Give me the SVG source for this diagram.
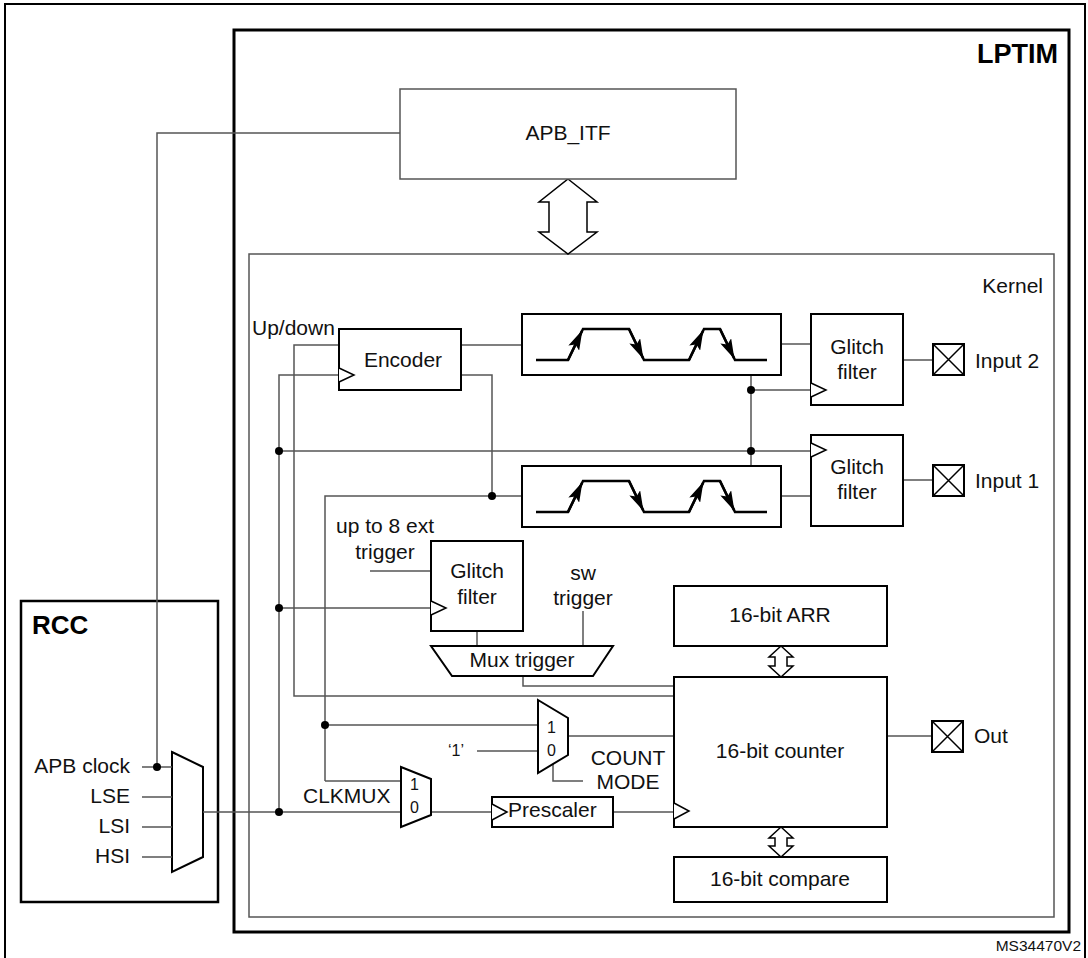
<svg xmlns="http://www.w3.org/2000/svg" width="1088" height="958" viewBox="0 0 1088 958">
<defs>
<style>
.t{font-family:"Liberation Sans",Arial,sans-serif;font-size:21px;fill:#111}
.s{font-family:"Liberation Sans",Arial,sans-serif;font-size:16px;fill:#111}
.b{font-family:"Liberation Sans",Arial,sans-serif;font-size:27px;font-weight:bold;fill:#000}
.box{fill:#fff;stroke:#000;stroke-width:2}
.gbox{fill:#fff;stroke:#555;stroke-width:1.5}
.w{fill:none;stroke:#555;stroke-width:1.5}
.wave{fill:none;stroke:#000;stroke-width:2.5}
.edge{stroke:#000;stroke-width:2.5}
.clk{fill:#fff;stroke:#000;stroke-width:1.5}
.pin{fill:#fff;stroke:#000;stroke-width:2}
.dot{fill:#000}
</style>
<marker id="wa" viewBox="0 0 20 12" refX="19" refY="6" markerWidth="20" markerHeight="12" markerUnits="userSpaceOnUse" orient="auto">
<path d="M0,0 L20,6 L0,12 L4,6 z" fill="#000"/>
</marker>
</defs>
<rect x="0" y="0" width="1088" height="958" fill="#fff"/>

<g id="frame">
<path d="M5,965 V4 H1085 V965" fill="none" stroke="#000" stroke-width="2"/>
<text class="s" x="1081" y="951" text-anchor="end" style="font-size:15.5px">MS34470V2</text>
</g>

<g id="lptim">
<rect x="234" y="30" width="835" height="902" fill="#fff" stroke="#000" stroke-width="3"/>
<text class="b" x="1058" y="63" text-anchor="end">LPTIM</text>
</g>

<g id="kernel">
<rect x="249" y="254" width="805" height="663" class="gbox"/>
<text class="t" x="1043" y="293" text-anchor="end">Kernel</text>
</g>

<g id="rcc">
<rect x="21" y="601" width="197" height="301" fill="#fff" stroke="#000" stroke-width="2.5"/>
<text class="b" x="32" y="634" style="font-size:26px">RCC</text>
<text class="t" x="130" y="773" text-anchor="end">APB clock</text>
<text class="t" x="130" y="803" text-anchor="end">LSE</text>
<text class="t" x="130" y="833" text-anchor="end">LSI</text>
<text class="t" x="130" y="863" text-anchor="end">HSI</text>
<polygon points="172,752 203,767 203,857 172,872" class="box" stroke-width="1.8"/>
</g>

<g id="connectors">
<path class="w" d="M142,767 H172 M142,797 H172 M142,827 H172 M142,857 H172"/>
<path class="w" d="M157,767 V133 H400"/>
<path class="w" d="M203,812 H401"/>
<path class="w" d="M279,812 V375 H339"/>
<path class="w" d="M279,451 H811"/>
<path class="w" d="M279,608 H431"/>
<path class="w" d="M339,345 H294 V696 H674"/>
<path class="w" d="M461,345 H522"/>
<path class="w" d="M461,375 H492 V496"/>
<path class="w" d="M325,781 V496 H522"/>
<path class="w" d="M751,375 V466"/>
<path class="w" d="M751,390 H811"/>
<path class="w" d="M781,344 H811"/>
<path class="w" d="M781,496 H811"/>
<path class="w" d="M903,360 H933"/>
<path class="w" d="M903,480 H933"/>
<path class="w" d="M370,571 H431"/>
<path class="w" d="M477,631 V646"/>
<path class="w" d="M583,611 V646"/>
<path class="w" d="M523,676 V686 H674"/>
<path class="w" d="M325,725 H538"/>
<path class="w" d="M477,751 H538"/>
<path class="w" d="M568,736 H674"/>
<path class="w" d="M553,764 V781 H583"/>
<path class="w" d="M325,781 H401"/>
<path class="w" d="M431,812 H492"/>
<path class="w" d="M613,812 H674"/>
<path class="w" d="M887,736 H932"/>
<circle class="dot" cx="157" cy="767" r="4"/>
<circle class="dot" cx="279" cy="451" r="4"/>
<circle class="dot" cx="279" cy="608" r="4"/>
<circle class="dot" cx="279" cy="812" r="4"/>
<circle class="dot" cx="325" cy="725" r="4"/>
<circle class="dot" cx="492" cy="496" r="4"/>
<circle class="dot" cx="751" cy="390" r="4"/>
<circle class="dot" cx="751" cy="451" r="4"/>
<path d="M568,179 L597,202 L587,202 L587,232 L597,232 L568,254 L539,232 L549,232 L549,202 L539,202 Z" fill="#fff" stroke="#000" stroke-width="1.5"/>
<path d="M781,646 L793,657 L787,657 L787,666 L793,666 L781,677 L769,666 L775,666 L775,657 L769,657 Z" fill="#fff" stroke="#000" stroke-width="1.5"/>
<path d="M781,827 L793,838 L787,838 L787,846 L793,846 L781,857 L769,846 L775,846 L775,838 L769,838 Z" fill="#fff" stroke="#000" stroke-width="1.5"/>
</g>

<g id="apb_itf">
<rect x="400" y="89" width="336" height="90" class="gbox"/>
<text class="t" x="568" y="140" text-anchor="middle">APB_ITF</text>
</g>

<g id="encoder">
<rect x="339" y="329" width="122" height="61" class="box"/>
<polyline points="339,368 354,375 339,382" class="clk"/>
<text class="t" x="403" y="367" text-anchor="middle">Encoder</text>
<text class="t" x="252" y="335">Up/down</text>
</g>

<g id="edge2">
<rect x="522" y="314" width="259" height="61" class="box"/>
<polyline class="wave" points="536,360 568,360 583,329 629,329 644,360 689,360 704,329 720,329 735,360 767,360"/>
<line class="edge" x1="568" y1="360" x2="582" y2="331" marker-end="url(#wa)"/>
<line class="edge" x1="629" y1="329" x2="643" y2="358" marker-end="url(#wa)"/>
<line class="edge" x1="689" y1="360" x2="703" y2="331" marker-end="url(#wa)"/>
<line class="edge" x1="720" y1="329" x2="734" y2="358" marker-end="url(#wa)"/>
</g>

<g id="edge1">
<rect x="522" y="466" width="259" height="61" class="box"/>
<polyline class="wave" points="536,512 568,512 583,481 629,481 644,512 689,512 704,481 720,481 735,512 767,512"/>
<line class="edge" x1="568" y1="512" x2="582" y2="483" marker-end="url(#wa)"/>
<line class="edge" x1="629" y1="481" x2="643" y2="510" marker-end="url(#wa)"/>
<line class="edge" x1="689" y1="512" x2="703" y2="483" marker-end="url(#wa)"/>
<line class="edge" x1="720" y1="481" x2="734" y2="510" marker-end="url(#wa)"/>
</g>

<g id="glitch2">
<rect x="811" y="314" width="92" height="91" class="box"/>
<polyline points="811,383 826,390 811,397" class="clk"/>
<text class="t" x="857" y="354" text-anchor="middle">Glitch</text>
<text class="t" x="857" y="379" text-anchor="middle">filter</text>
</g>

<g id="glitch1">
<rect x="811" y="435" width="92" height="91" class="box"/>
<polyline points="811,443 826,450 811,457" class="clk"/>
<text class="t" x="857" y="474" text-anchor="middle">Glitch</text>
<text class="t" x="857" y="499" text-anchor="middle">filter</text>
</g>

<g id="input2">
<rect x="933" y="344" width="31" height="31" class="pin"/>
<path d="M933,344 L964,375 M964,344 L933,375" stroke="#000" stroke-width="1.5"/>
<text class="t" x="975" y="368">Input 2</text>
</g>

<g id="input1">
<rect x="933" y="465" width="31" height="31" class="pin"/>
<path d="M933,465 L964,496 M964,465 L933,496" stroke="#000" stroke-width="1.5"/>
<text class="t" x="975" y="488">Input 1</text>
</g>

<g id="ext_trigger">
<text class="t" x="385" y="533" text-anchor="middle">up to 8 ext</text>
<text class="t" x="385" y="559" text-anchor="middle">trigger</text>
</g>

<g id="glitch_trig">
<rect x="431" y="541" width="92" height="90" class="box"/>
<polyline points="431,601 446,608 431,615" class="clk"/>
<text class="t" x="477" y="578" text-anchor="middle">Glitch</text>
<text class="t" x="477" y="604" text-anchor="middle">filter</text>
</g>

<g id="sw_trigger">
<text class="t" x="583" y="580" text-anchor="middle">sw</text>
<text class="t" x="583" y="605" text-anchor="middle">trigger</text>
</g>

<g id="mux_trigger">
<polygon points="431,646 613,646 593,676 452,676" class="box"/>
<text class="t" x="522" y="667" text-anchor="middle">Mux trigger</text>
</g>

<g id="arr">
<rect x="674" y="586" width="213" height="60" class="box"/>
<text class="t" x="780" y="622" text-anchor="middle">16-bit ARR</text>
</g>

<g id="counter">
<rect x="674" y="677" width="213" height="150" class="box"/>
<polyline points="674,803 689,811 674,819" class="clk"/>
<text class="t" x="780" y="758" text-anchor="middle">16-bit counter</text>
</g>

<g id="compare">
<rect x="674" y="857" width="213" height="45" class="box"/>
<text class="t" x="780" y="886" text-anchor="middle">16-bit compare</text>
</g>

<g id="out">
<rect x="932" y="721" width="31" height="31" class="pin"/>
<path d="M932,721 L963,752 M963,721 L932,752" stroke="#000" stroke-width="1.5"/>
<text class="t" x="974" y="743">Out</text>
</g>

<g id="countmode_mux">
<polygon points="538,700 568,718 568,755 538,773" class="box" stroke-width="1.8"/>
<text class="s" x="547" y="733">1</text>
<text class="s" x="547" y="756">0</text>
<text class="s" x="448" y="756">‘1’</text>
<text class="t" x="628" y="765" text-anchor="middle">COUNT</text>
<text class="t" x="628" y="789" text-anchor="middle">MODE</text>
</g>

<g id="clkmux">
<polygon points="401,767 431,779 431,815 401,827" class="box" stroke-width="1.8"/>
<text class="s" x="410" y="790">1</text>
<text class="s" x="410" y="813">0</text>
<text class="t" x="303" y="803">CLKMUX</text>
</g>

<g id="prescaler">
<rect x="492" y="797" width="121" height="30" class="box"/>
<polyline points="492,804 507,812 492,820" class="clk"/>
<text class="t" x="508" y="817">Prescaler</text>
</g>
</svg>
